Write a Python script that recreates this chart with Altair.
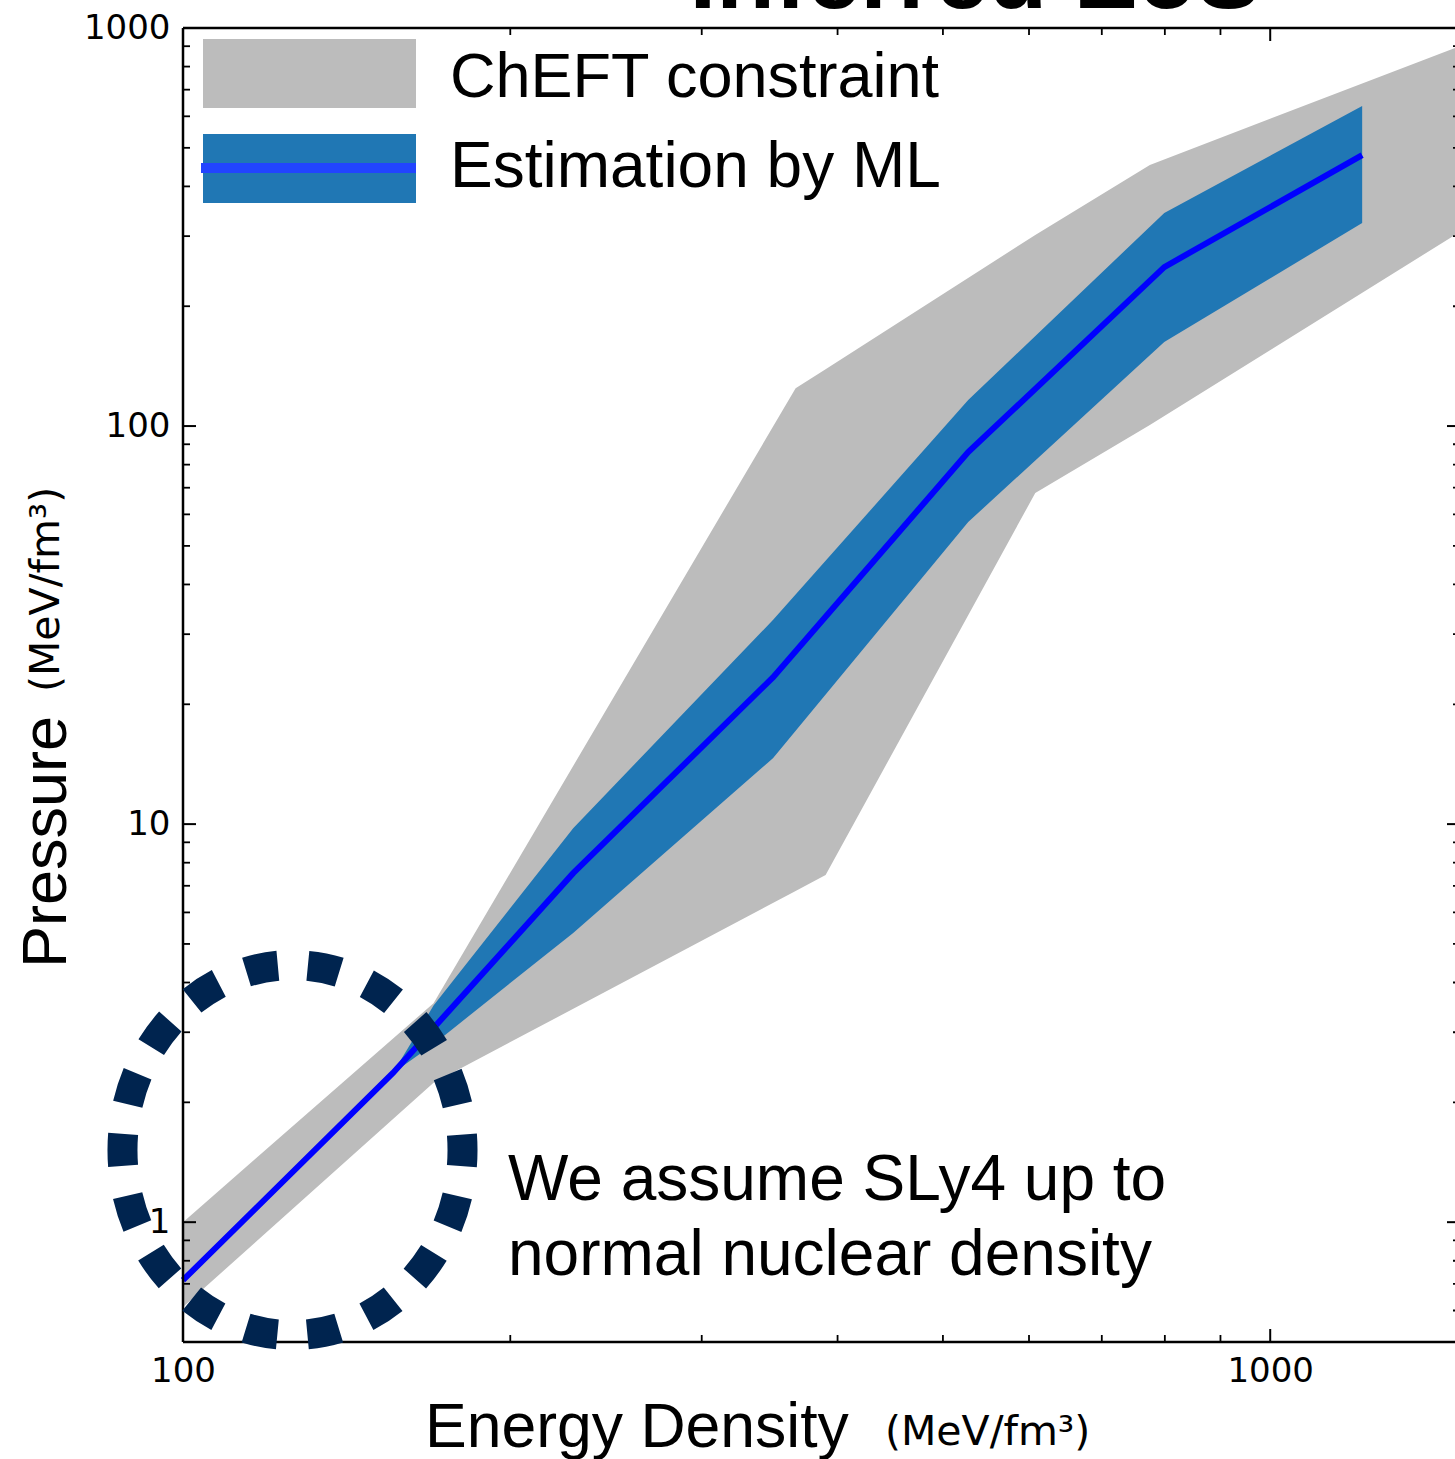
import altair as alt
import pandas as pd

# ---------------- data ----------------
# ChEFT constraint band (gray)
gray_x = [100, 170, 366, 390, 608, 775, 1479]
gray_hi = [1.0, 3.55, 124.5, 139, 302, 453, 891]
gray_lo = [0.612, 2.24, 6.79, 7.45, 67.9, 100.6, 302]

# ML estimation band (blue)
blue_x = [156, 170, 228.5, 349, 527.5, 799, 1215]
blue_hi = [2.37, 3.5, 9.77, 32.6, 116.2, 343, 637]
blue_lo = [2.37, 2.80, 5.33, 14.65, 57.4, 162.6, 323.6]

# ML estimation central line
line_x = [100, 156, 228.5, 349, 527.5, 799, 1215]
line_y = [0.715, 2.37, 7.53, 23.4, 86.0, 250.8, 479.6]

# dashed circle annotation centre
circle_x = [126.1]
circle_y = [1.517]

# axes
x_domain = [100, 1479]
y_domain = [0.5, 1000]
x_major = [100, 1000]
x_minor = [200, 300, 400, 500, 600, 700, 800, 900]
y_major = [1, 10, 100, 1000]
y_minor = [0.6, 0.7, 0.8, 0.9, 2, 3, 4, 5, 6, 7, 8, 9,
           20, 30, 40, 50, 60, 70, 80, 90, 200, 300, 400, 500, 600, 700, 800, 900]

legend_labels = ["ChEFT constraint", "Estimation by ML"]
note_lines = ["We assume SLy4 up to", "normal nuclear density"]
x_title = "Energy Density"
y_title = "Pressure"
unit = "(MeV/fm³)"
top_title = "Inferred EoS"

# ---------------- layout ----------------
W, H = 1272, 1314
GRAY = "#bcbcbc"
BLUE_BAND = "#2077b4"
BLUE_LINE = "#0000ff"
NAVY = "#00244f"
SANS = "Liberation Sans"

xscale = alt.Scale(type="log", domain=x_domain, nice=False)
yscale = alt.Scale(type="log", domain=y_domain, nice=False)

AX_X = alt.Axis(values=x_major, format="d", ticks=False, tickSize=0, domain=False,
                grid=False, labelFont="DejaVu Sans", labelFontSize=34, labelColor="black",
                labelPadding=12, labelFlush=False, labelOverlap=False, title="")
AX_Y = alt.Axis(values=y_major, format="d", ticks=False, tickSize=0, domain=False,
                grid=False, labelFont="DejaVu Sans", labelFontSize=34, labelColor="black",
                labelPadding=13, labelFlush=False, labelOverlap=False, title="")


def X(f):
    return alt.X(f, type="quantitative", scale=xscale, axis=AX_X)


def Y(f):
    return alt.Y(f, type="quantitative", scale=yscale, axis=AX_Y)


def Y2(f):
    return alt.Y2(f)


one = pd.DataFrame({"a": [0]})

gray_df = pd.DataFrame({"x": gray_x, "hi": gray_hi, "lo": gray_lo})
blue_df = pd.DataFrame({"x": blue_x, "hi": blue_hi, "lo": blue_lo})
line_df = pd.DataFrame({"x": line_x, "y": line_y})
circ_df = pd.DataFrame({"x": circle_x, "y": circle_y})

layers = []

layers.append(alt.Chart(gray_df).mark_area(color=GRAY, opacity=1, line=False)
              .encode(x=X("x"), y=Y("hi"), y2=Y2("lo")))
layers.append(alt.Chart(blue_df).mark_area(color=BLUE_BAND, opacity=1)
              .encode(x=X("x"), y=Y("hi"), y2=Y2("lo")))
layers.append(alt.Chart(line_df).mark_line(color=BLUE_LINE, strokeWidth=6)
              .encode(x=X("x"), y=Y("y")))

# inward ticks on all four sides (right axis sits just past the page edge)
RIGHT = W + 5


def xticks(vals, length, sw):
    df = pd.DataFrame({"v": vals})
    bottom = alt.Chart(df).mark_rule(color="black", strokeWidth=sw).encode(
        x=X("v"), y=alt.value(H), y2=alt.value(H - length))
    top = alt.Chart(df).mark_rule(color="black", strokeWidth=sw).encode(
        x=X("v"), y=alt.value(0), y2=alt.value(length))
    return [bottom, top]


def yticks(vals, length, sw):
    df = pd.DataFrame({"v": vals})
    left = alt.Chart(df).mark_rule(color="black", strokeWidth=sw).encode(
        y=Y("v"), x=alt.value(0), x2=alt.value(length))
    right = alt.Chart(df).mark_rule(color="black", strokeWidth=sw).encode(
        y=Y("v"), x=alt.value(RIGHT), x2=alt.value(RIGHT - length))
    return [left, right]


layers += xticks(x_major, 13, 2)
layers += xticks(x_minor, 7, 1.8)
layers += yticks(y_major, 13, 2)
layers += yticks(y_minor, 7, 1.8)

# frame (top, bottom, left)
fr = dict(color="black", strokeWidth=2.5)
layers.append(alt.Chart(one).mark_rule(**fr).encode(
    x=alt.value(0), x2=alt.value(W), y=alt.value(0)))
layers.append(alt.Chart(one).mark_rule(**fr).encode(
    x=alt.value(0), x2=alt.value(W), y=alt.value(H)))
layers.append(alt.Chart(one).mark_rule(**fr).encode(
    x=alt.value(0), y=alt.value(0), y2=alt.value(H)))

# legend
layers.append(alt.Chart(one).mark_rect(color=GRAY).encode(
    x=alt.value(20), x2=alt.value(233), y=alt.value(11), y2=alt.value(80)))
layers.append(alt.Chart(one).mark_rect(color=BLUE_BAND).encode(
    x=alt.value(20), x2=alt.value(233), y=alt.value(106), y2=alt.value(175)))
layers.append(alt.Chart(one).mark_rule(color="#2244ff", strokeWidth=10).encode(
    x=alt.value(18), x2=alt.value(233), y=alt.value(140)))


def txt(s, x, y, size, font=SANS, angle=0, weight="normal", align="left"):
    kw = dict(text=s, align=align, baseline="alphabetic", fontSize=size, font=font,
              color="black", fontWeight=weight)
    if angle:
        kw["angle"] = angle
    return alt.Chart(one).mark_text(**kw).encode(x=alt.value(x), y=alt.value(y))


layers.append(txt(legend_labels[0], 267, 69, 63))
layers.append(txt(legend_labels[1], 267, 159, 64))

layers.append(txt(note_lines[0], 325, 1172, 64))
layers.append(txt(note_lines[1], 325, 1247, 64))

# axis titles
layers.append(txt(x_title, 242, 1419, 62.5))
layers.append(txt(unit, 702, 1417, 41, font="DejaVu Sans"))
layers.append(txt(y_title, -117, 940, 63, angle=270))
layers.append(txt(unit, -124, 664, 41, font="DejaVu Sans", angle=270))

# top title (mostly cut off by the page edge, as in the source)
layers.append(txt(top_title, 792, -20, 96, weight="bold", align="center"))

# dashed ellipse annotation
ellipse = "M0.919,0A0.919,1,0,1,1,-0.919,0A0.919,1,0,1,1,0.919,0Z"
layers.append(alt.Chart(circ_df).mark_point(
    shape=ellipse, size=136900, filled=False, stroke=NAVY, strokeWidth=30,
    strokeDash=[32, 30], strokeDashOffset=16, opacity=1).encode(
    x=X("x"), y=Y("y")))

chart = alt.layer(*layers).properties(
    width=W, height=H,
    padding={"left": 183, "top": 28, "right": 0, "bottom": 117},
    autosize=alt.AutoSizeParams(type="none"),
    background="white",
).configure_view(strokeWidth=0)

chart.save("out.html", embed_options={"renderer": "svg", "actions": False})
